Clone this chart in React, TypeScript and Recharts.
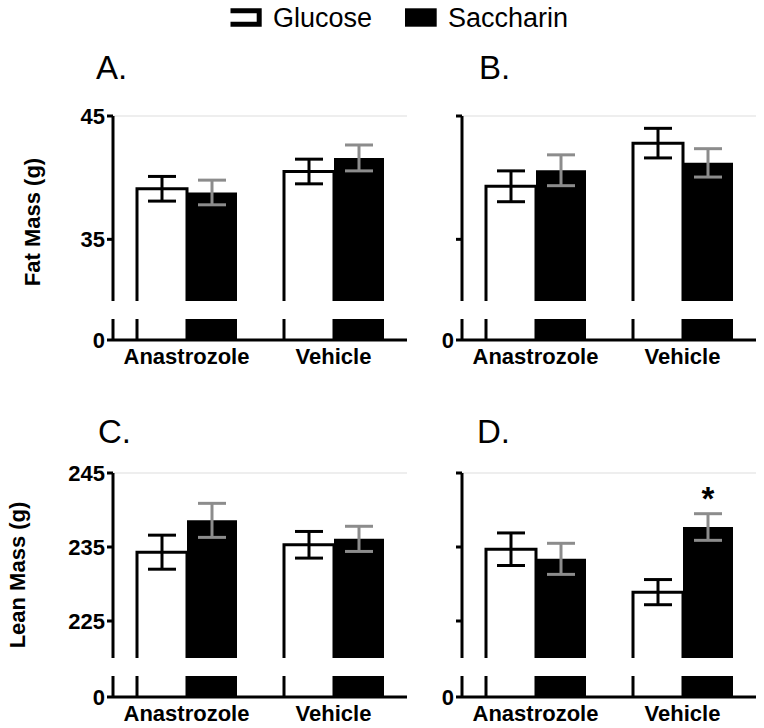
import React from 'react';
import { BarChart, Bar, XAxis, YAxis, ErrorBar, ReferenceLine, LabelList } from 'recharts';

// ---------- data ----------
const categories = ['Anastrozole', 'Vehicle'];

const fatAGlucose = [39.1, 40.5];
const fatAGlucoseErr = [1.0, 1.0];
const fatASaccharin = [38.8, 41.6];
const fatASaccharinErr = [1.0, 1.05];

const fatBGlucose = [39.3, 42.8];
const fatBGlucoseErr = [1.25, 1.2];
const fatBSaccharin = [40.6, 41.2];
const fatBSaccharinErr = [1.25, 1.15];

const leanCGlucose = [234.3, 235.3];
const leanCGlucoseErr = [2.3, 1.8];
const leanCSaccharin = [238.6, 236.1];
const leanCSaccharinErr = [2.3, 1.7];

const leanDGlucose = [234.7, 228.9];
const leanDGlucoseErr = [2.2, 1.7];
const leanDSaccharin = [233.4, 237.7];
const leanDSaccharinErr = [2.1, 1.8];
const leanDSignificance = ['', '*'];

const fatDomain = [30, 45];
const fatTicks = [35, 45];
const leanDomain = [220, 245];
const leanTicks = [225, 235, 245];
const stubDomain = [0, 1];
const stubTicks = [0];

const seriesNames = ['Glucose', 'Saccharin'];
const panelTitles = ['A.', 'B.', 'C.', 'D.'];
const yTitles = ['Fat Mass (g)', 'Lean Mass (g)'];

// ---------- helpers ----------
const FONT = '"Liberation Sans", Arial, Helvetica, sans-serif';

function buildRows(g: number[], gErr: number[], s: number[], sErr: number[], sig?: string[]) {
  return categories.map((name, i) => ({
    name,
    g: g[i],
    gErr: gErr[i],
    s: s[i],
    sErr: sErr[i],
    sig: sig ? sig[i] : '',
  }));
}

const GlucoseShape = (props: any) => {
  const { x, y, width, height } = props;
  if (x == null || y == null || width == null || height == null) return null;
  return (
    <path
      d={`M${x},${y + height} L${x},${y} L${x + width},${y} L${x + width},${y + height}`}
      fill="#fff"
      stroke="#000"
      strokeWidth={3}
    />
  );
};

const axisLine = { stroke: '#000', strokeWidth: 3 };
const tickLine = { stroke: '#000', strokeWidth: 3 };
const tickStyle = { fill: '#000', fontSize: 22, fontWeight: 'bold', fontFamily: FONT };

const PLOT_W = 294;
const UPPER_H = 185;
const LOWER_H = 21;
const GAP = 18;

function Panel(props: {
  rows: any[];
  axisX: number;
  upperTop: number;
  domain: number[];
  ticks: number[];
  showLabels: boolean;
  yAxisWidth: number;
  withSig?: boolean;
}) {
  const { rows, axisX, upperTop, domain, ticks, showLabels, yAxisWidth, withSig } = props;
  const left = axisX - yAxisWidth;
  const mTop = 40;
  const chartW = yAxisWidth + PLOT_W + 10;
  return (
    <>
      <div style={{ position: 'absolute', left, top: upperTop - mTop }}>
        <BarChart
          width={chartW}
          height={mTop + UPPER_H + 5}
          data={rows}
          margin={{ top: mTop, right: 10, bottom: 5, left: 0 }}
          barGap={0}
          barSize={50}
        >
          <XAxis dataKey="name" hide />
          <YAxis
            width={yAxisWidth}
            type="number"
            domain={domain as any}
            ticks={ticks}
            allowDataOverflow
            interval={0}
            axisLine={axisLine}
            tickLine={tickLine}
            tick={tickStyle}
            tickFormatter={showLabels ? undefined : () => ''}
          />
          <ReferenceLine y={domain[1]} stroke="#dddddd" strokeWidth={1} />
          <Bar dataKey="g" shape={GlucoseShape} isAnimationActive={false}>
            <ErrorBar dataKey="gErr" width={14} stroke="#000" strokeWidth={3} direction="y" />
          </Bar>
          <Bar dataKey="s" fill="#000" isAnimationActive={false}>
            <ErrorBar dataKey="sErr" width={14} stroke="#8c8c8c" strokeWidth={3} direction="y" />
            {withSig ? (
              <LabelList
                dataKey="sig"
                position="top"
                offset={17}
                fill="#000"
                fontSize={33}
                fontWeight="bold"
                fontFamily={FONT}
              />
            ) : null}
          </Bar>
        </BarChart>
      </div>
      <div style={{ position: 'absolute', left, top: upperTop + UPPER_H + GAP - 10 }}>
        <BarChart
          width={chartW}
          height={10 + LOWER_H + 40}
          data={rows}
          margin={{ top: 10, right: 10, bottom: 0, left: 0 }}
          barGap={0}
          barSize={50}
        >
          <XAxis
            dataKey="name"
            height={40}
            interval={0}
            axisLine={axisLine}
            tickLine={false}
            tick={tickStyle}
          />
          <YAxis
            width={yAxisWidth}
            type="number"
            domain={stubDomain as any}
            ticks={stubTicks}
            allowDataOverflow
            interval={0}
            axisLine={axisLine}
            tickLine={tickLine}
            tick={tickStyle}
          />
          <Bar dataKey="g" shape={GlucoseShape} isAnimationActive={false} />
          <Bar dataKey="s" fill="#000" isAnimationActive={false} />
        </BarChart>
      </div>
    </>
  );
}

export default function App() {
  const rowsA = buildRows(fatAGlucose, fatAGlucoseErr, fatASaccharin, fatASaccharinErr);
  const rowsB = buildRows(fatBGlucose, fatBGlucoseErr, fatBSaccharin, fatBSaccharinErr);
  const rowsC = buildRows(leanCGlucose, leanCGlucoseErr, leanCSaccharin, leanCSaccharinErr);
  const rowsD = buildRows(leanDGlucose, leanDGlucoseErr, leanDSaccharin, leanDSaccharinErr, leanDSignificance);

  return (
    <div style={{ position: 'absolute', left: 0, top: 0, width: 764, height: 728, background: '#fff' }}>
      <svg
        width={764}
        height={728}
        style={{ position: 'absolute', left: 0, top: 0 }}
        fontFamily={FONT}
      >
        {/* legend */}
        <path d="M230.5,10.8 H259.2 V24.2 H230.5" fill="none" stroke="#000" strokeWidth={5} />
        <text x={273} y={26.5} fontSize={27} fill="#000">{seriesNames[0]}</text>
        <rect x={405} y={8.3} width={31.7} height={18.4} fill="#000" />
        <text x={448} y={26.5} fontSize={27} fill="#000">{seriesNames[1]}</text>
        {/* panel titles */}
        <text x={96} y={79} fontSize={33} fill="#000">{panelTitles[0]}</text>
        <text x={479} y={79} fontSize={33} fill="#000">{panelTitles[1]}</text>
        <text x={98} y={443} fontSize={33} fill="#000">{panelTitles[2]}</text>
        <text x={477} y={443} fontSize={33} fill="#000">{panelTitles[3]}</text>
        {/* y titles */}
        <text
          transform="translate(32.5,222) rotate(-90)"
          textAnchor="middle"
          dominantBaseline="central"
          fontSize={22}
          fontWeight="bold"
          fill="#000"
        >
          {yTitles[0]}
        </text>
        <text
          transform="translate(17.5,575) rotate(-90)"
          textAnchor="middle"
          dominantBaseline="central"
          fontSize={22}
          fontWeight="bold"
          fill="#000"
        >
          {yTitles[1]}
        </text>
      </svg>

      <Panel rows={rowsA} axisX={113} upperTop={116} domain={fatDomain} ticks={fatTicks} showLabels yAxisWidth={113} />
      <Panel rows={rowsB} axisX={462} upperTop={116} domain={fatDomain} ticks={fatTicks} showLabels={false} yAxisWidth={50} />
      <Panel rows={rowsC} axisX={113} upperTop={473} domain={leanDomain} ticks={leanTicks} showLabels yAxisWidth={113} />
      <Panel rows={rowsD} axisX={462} upperTop={473} domain={leanDomain} ticks={leanTicks} showLabels={false} yAxisWidth={50} withSig />
    </div>
  );
}
